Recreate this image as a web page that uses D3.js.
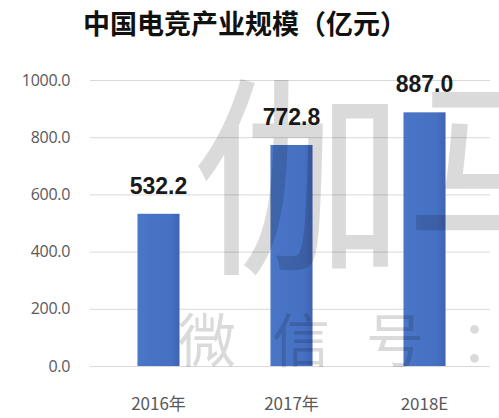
<!DOCTYPE html>
<html><head><meta charset="utf-8">
<script src="https://cdn.jsdelivr.net/npm/d3@7"></script>
<style>body{margin:0;background:#fff}svg{display:block}</style>
</head><body>
<script>
const categories = ["2016年", "2017年", "2018E"];
const values = [532.2, 772.8, 887.0];
const yTicks = [0, 200, 400, 600, 800, 1000];
const title = "中国电竞产业规模（亿元）";

const W = 499, H = 418;
const svg = d3.select("body").append("svg").attr("width", W).attr("height", H);
const font = "'Noto Sans CJK SC','Noto Sans',sans-serif";

const y = d3.scaleLinear().domain([0, 1000]).range([366, 80]);
const x = d3.scaleBand().domain(categories).range([92, 491]).padding(0);
const barW = x.bandwidth() * 0.316;

const defs = svg.append("defs");
const g = defs.append("linearGradient").attr("id", "bg").attr("x1", 0).attr("x2", 1);
g.append("stop").attr("offset", 0).attr("stop-color", "#4a76c8");
g.append("stop").attr("offset", 0.8).attr("stop-color", "#4670c2");
g.append("stop").attr("offset", 1).attr("stop-color", "#3f63b3");

svg.append("text").attr("x", 245).attr("y", 34).attr("text-anchor", "middle")
  .attr("font-family", font).attr("font-weight", "bold").attr("font-size", 27)
  .attr("fill", "#111").text(title);

// gridlines
svg.append("g").selectAll("line").data(yTicks).join("line")
  .attr("x1", 90).attr("x2", 490)
  .attr("y1", d => y(d) + 0.5).attr("y2", d => y(d) + 0.5)
  .attr("stroke", "#d9d9d9").attr("stroke-width", 1);

// y axis labels
const yAxis = d3.axisLeft(y).tickValues(yTicks).tickFormat(d3.format(".1f")).tickSize(0).tickPadding(0);
const ya = svg.append("g").attr("transform", "translate(70,0)").call(yAxis);
ya.select(".domain").remove();
ya.selectAll("text").attr("font-family", "'Open Sans',sans-serif").attr("font-size", 16)
  .attr("letter-spacing", -0.3).attr("fill", "#595959");

// bars
svg.append("g").selectAll("rect").data(values).join("rect")
  .attr("x", (d, i) => x(categories[i]) + x.bandwidth() / 2 - barW / 2)
  .attr("width", barW)
  .attr("y", d => y(d))
  .attr("height", d => y(0) - y(d))
  .attr("fill", "url(#bg)");

// value labels
svg.append("g").selectAll("text").data(values).join("text")
  .attr("x", (d, i) => x(categories[i]) + x.bandwidth() / 2)
  .attr("y", d => y(d) - 20)
  .attr("text-anchor", "middle")
  .attr("font-family", "'Liberation Sans',Arial,sans-serif").attr("font-weight", "bold")
  .attr("font-size", 23).attr("fill", "#1a1a1a")
  .text(d => d3.format(".1f")(d));

// category labels
const xAxis = d3.axisBottom(x).tickSize(0).tickPadding(0);
const xa = svg.append("g").attr("transform", "translate(0,398)").call(xAxis);
xa.select(".domain").remove();
xa.selectAll("text").attr("font-family", font).attr("font-size", 17).attr("fill", "#595959");

// watermark
const wm = svg.append("g").attr("opacity", 0.14).attr("font-family", font).attr("fill", "#000");
wm.append("text").attr("x", 192).attr("y", 258).attr("font-size", 212).text("伽马");
wm.append("text").attr("x", 178).attr("y", 362).attr("font-size", 58)
  .attr("letter-spacing", 36).text("微信号：");
</script>
</body></html>
